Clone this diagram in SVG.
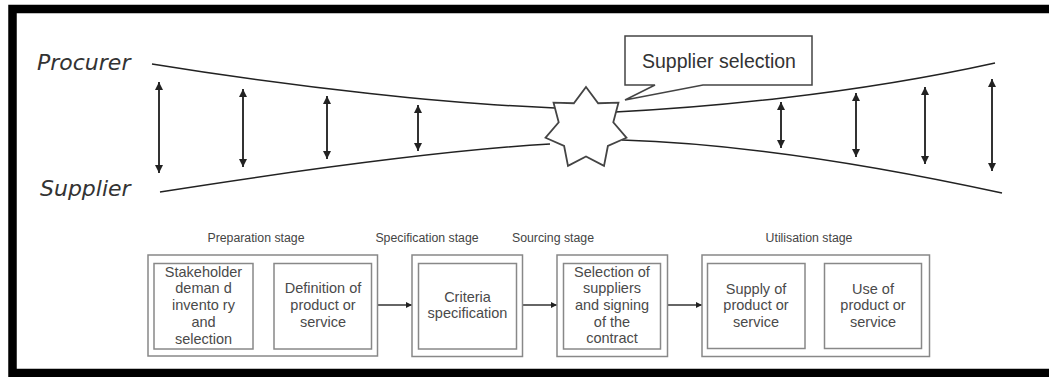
<svg xmlns="http://www.w3.org/2000/svg" width="1049" height="377" viewBox="0 0 1049 377">
<style>
.side{font-family:"DejaVu Sans",sans-serif;font-style:italic;font-size:22px;fill:#333}
.callt{font-family:"Liberation Sans",Arial,sans-serif;font-size:19.5px;fill:#333}
.stage{font-family:"Liberation Sans",Arial,sans-serif;font-size:12.3px;fill:#444;text-anchor:middle}
.bt{font-family:"Liberation Sans",Arial,sans-serif;font-size:14.5px;fill:#4a4a4a;text-anchor:middle}
.fun{fill:none;stroke:#222;stroke-width:1.5}
.va{stroke:#333;stroke-width:2;marker-start:url(#ah);marker-end:url(#ah)}
.outer,.inner{fill:#fff;stroke:#888;stroke-width:1.5}
.fl{stroke:#333;stroke-width:1.3;marker-end:url(#sa)}
</style>
<defs>
<marker id="ah" viewBox="0 0 10 10" refX="10" refY="5" markerWidth="8" markerHeight="9" markerUnits="userSpaceOnUse" orient="auto-start-reverse"><path d="M0,0 L10,5 L0,10 z" fill="#222"/></marker>
<marker id="sa" viewBox="0 0 10 10" refX="10" refY="5" markerWidth="6" markerHeight="6" markerUnits="userSpaceOnUse" orient="auto"><path d="M0,0 L10,5 L0,10 z" fill="#222"/></marker>
</defs>
<rect width="1049" height="377" fill="#fff"/>
<path d="M1049,9 H12.5 V373 H1049" fill="none" stroke="#000" stroke-width="8.5"/>
<g id="labels">
<text class="side" x="37" y="70">Procurer</text>
<text class="side" x="40" y="196">Supplier</text>
</g>
<g id="funnel">
<path class="fun" d="M152,64 C300,88 450,104 555,108"/>
<path class="fun" d="M160,192 C300,170 450,150 550,144"/>
<path class="fun" d="M615,112 C700,108 850,95 995,63"/>
<path class="fun" d="M622,140 C720,143 850,160 1002,193"/>
</g>
<g id="connectors">
<line class="va" x1="159" y1="82" x2="159" y2="173"/>
<line class="va" x1="243" y1="89" x2="243" y2="167"/>
<line class="va" x1="327" y1="96" x2="327" y2="159"/>
<line class="va" x1="418" y1="105" x2="418" y2="151"/>
<line class="va" x1="781" y1="102" x2="781" y2="148"/>
<line class="va" x1="856" y1="93" x2="856" y2="157"/>
<line class="va" x1="925" y1="87" x2="925" y2="164"/>
<line class="va" x1="992" y1="79" x2="992" y2="171"/>
<line class="fl" x1="253" y1="305" x2="274" y2="305"/>
<line class="fl" x1="378" y1="305" x2="412" y2="305"/>
<line class="fl" x1="523" y1="305" x2="557" y2="305"/>
<line class="fl" x1="667" y1="305" x2="702" y2="305"/>
<line class="fl" x1="805" y1="305" x2="824" y2="305"/>
</g>
<g id="star">
<polygon points="586,87 598.15,103.27 618.45,102.62 613.3,122.27 626.46,137.73 607.89,145.96 604.01,165.89 586,156.5 567.99,165.89 564.11,145.96 545.54,137.73 558.7,122.27 553.55,102.62 573.85,103.27" fill="#fff" stroke="#444" stroke-width="1.8"/>
</g>
<g id="callout">
<path d="M625,36 H812 V85 H703 L625,100 L655,85 H625 Z" fill="#fff" stroke="#444" stroke-width="1.5"/>
<text class="callt" x="642" y="68">Supplier selection</text>
</g>
<g id="preparation">
<text class="stage" x="256" y="242">Preparation stage</text>
<rect class="outer" x="148" y="255" width="229.5" height="101"/>
</g>
<g id="stakeholder">
<rect class="inner" x="154" y="263.5" width="99" height="85.5"/>
<text class="bt" x="203.5" y="276.5">Stakeholder</text>
<text class="bt" x="203.5" y="293.3">deman d</text>
<text class="bt" x="203.5" y="310">invento ry</text>
<text class="bt" x="203.5" y="326.7">and</text>
<text class="bt" x="203.5" y="344">selection</text>
</g>
<g id="definition">
<rect class="inner" x="274" y="263.5" width="97.5" height="85.5"/>
<text class="bt" x="323" y="293">Definition of</text>
<text class="bt" x="323" y="310">product or</text>
<text class="bt" x="323" y="326.7">service</text>
</g>
<g id="specification">
<text class="stage" x="427" y="242">Specification stage</text>
<rect class="outer" x="412" y="255" width="110.5" height="101.5"/>
<rect class="inner" x="418.5" y="263.5" width="98" height="85.5"/>
<text class="bt" x="467.5" y="301.7">Criteria</text>
<text class="bt" x="467.5" y="317.7">specification</text>
</g>
<g id="sourcing">
<text class="stage" x="553" y="242">Sourcing stage</text>
<rect class="outer" x="557" y="255" width="110.5" height="101.5"/>
<rect class="inner" x="563.5" y="263.5" width="97" height="85.5"/>
<text class="bt" x="612" y="276.7">Selection of</text>
<text class="bt" x="612" y="293.3">suppliers</text>
<text class="bt" x="612" y="310">and signing</text>
<text class="bt" x="612" y="326.7">of the</text>
<text class="bt" x="612" y="343.3">contract</text>
</g>
<g id="utilisation">
<text class="stage" x="809" y="242">Utilisation stage</text>
<rect class="outer" x="702" y="255" width="227.5" height="101.5"/>
</g>
<g id="supply">
<rect class="inner" x="707.5" y="263.5" width="97.5" height="85"/>
<text class="bt" x="756" y="294.3">Supply of</text>
<text class="bt" x="756" y="310">product or</text>
<text class="bt" x="756" y="326.7">service</text>
</g>
<g id="use">
<rect class="inner" x="824.5" y="263.5" width="97" height="85"/>
<text class="bt" x="873" y="294.3">Use of</text>
<text class="bt" x="873" y="310">product or</text>
<text class="bt" x="873" y="326.7">service</text>
</g>
</svg>
